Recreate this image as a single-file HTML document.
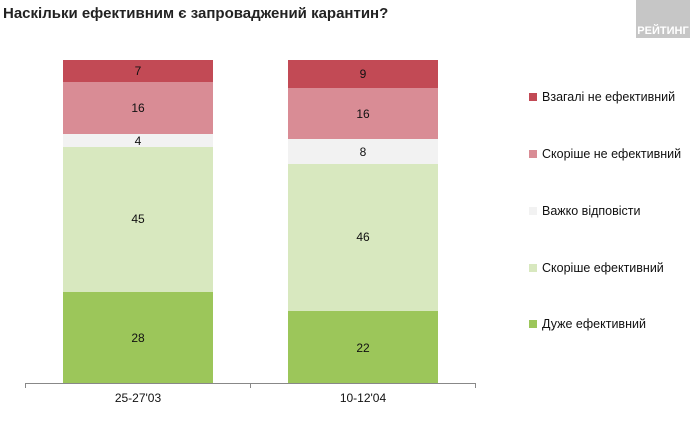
<!DOCTYPE html>
<html><head><meta charset="utf-8"><style>
body{margin:0;width:690px;height:424px;overflow:hidden;background:#fff;font-family:"Liberation Sans",sans-serif;position:relative}
.a{position:absolute}
.t{font-size:12px;color:#111;text-align:center;width:150px}
.lg{position:absolute;left:529px;font-size:12.5px;color:#111;white-space:nowrap}
.lg i{display:inline-block;width:8px;height:8px;margin-right:5px;vertical-align:0}
</style></head><body>
<div class="a" style="left:3px;top:5px;font-size:15px;font-weight:bold;color:#222">Наскільки ефективним є запроваджений карантин?</div>
<div class="a" style="left:636px;top:0;width:54px;height:38px;background:#c6c6c6;color:#fff;font-size:11px;font-weight:bold;line-height:14px;padding-top:24px;box-sizing:border-box;text-align:center">РЕЙТИНГ</div>

<div class="a" style="left:63px;top:60px;width:150px;height:22px;background:#c24a55"></div>
<div class="a" style="left:63px;top:82px;width:150px;height:52px;background:#d98c95"></div>
<div class="a" style="left:63px;top:134px;width:150px;height:13px;background:#f2f2f2"></div>
<div class="a" style="left:63px;top:147px;width:150px;height:145px;background:#d8e8bf"></div>
<div class="a" style="left:63px;top:292px;width:150px;height:91px;background:#9cc65a"></div>
<div class="a t" style="left:63px;top:64px">7</div>
<div class="a t" style="left:63px;top:101px">16</div>
<div class="a t" style="left:63px;top:134px">4</div>
<div class="a t" style="left:63px;top:212px">45</div>
<div class="a t" style="left:63px;top:331px">28</div>

<div class="a" style="left:288px;top:60px;width:150px;height:28px;background:#c24a55"></div>
<div class="a" style="left:288px;top:88px;width:150px;height:51px;background:#d98c95"></div>
<div class="a" style="left:288px;top:139px;width:150px;height:25px;background:#f2f2f2"></div>
<div class="a" style="left:288px;top:164px;width:150px;height:147px;background:#d8e8bf"></div>
<div class="a" style="left:288px;top:311px;width:150px;height:72px;background:#9cc65a"></div>
<div class="a t" style="left:288px;top:67px">9</div>
<div class="a t" style="left:288px;top:107px">16</div>
<div class="a t" style="left:288px;top:145px">8</div>
<div class="a t" style="left:288px;top:230px">46</div>
<div class="a t" style="left:288px;top:341px">22</div>

<div class="a" style="left:25px;top:383px;width:450px;height:1px;background:#888"></div>
<div class="a" style="left:25px;top:383px;width:1px;height:5px;background:#888"></div>
<div class="a" style="left:250px;top:383px;width:1px;height:5px;background:#888"></div>
<div class="a" style="left:475px;top:383px;width:1px;height:5px;background:#888"></div>
<div class="a t" style="left:63px;top:391px">25-27'03</div>
<div class="a t" style="left:288px;top:391px">10-12'04</div>

<div class="lg" style="top:90px"><i style="background:#c24a55"></i>Взагалі не ефективний</div>
<div class="lg" style="top:147px"><i style="background:#d98c95"></i>Скоріше не ефективний</div>
<div class="lg" style="top:204px"><i style="background:#f2f2f2"></i>Важко відповісти</div>
<div class="lg" style="top:261px"><i style="background:#d8e8bf"></i>Скоріше ефективний</div>
<div class="lg" style="top:317px"><i style="background:#9cc65a"></i>Дуже ефективний</div>
</body></html>
